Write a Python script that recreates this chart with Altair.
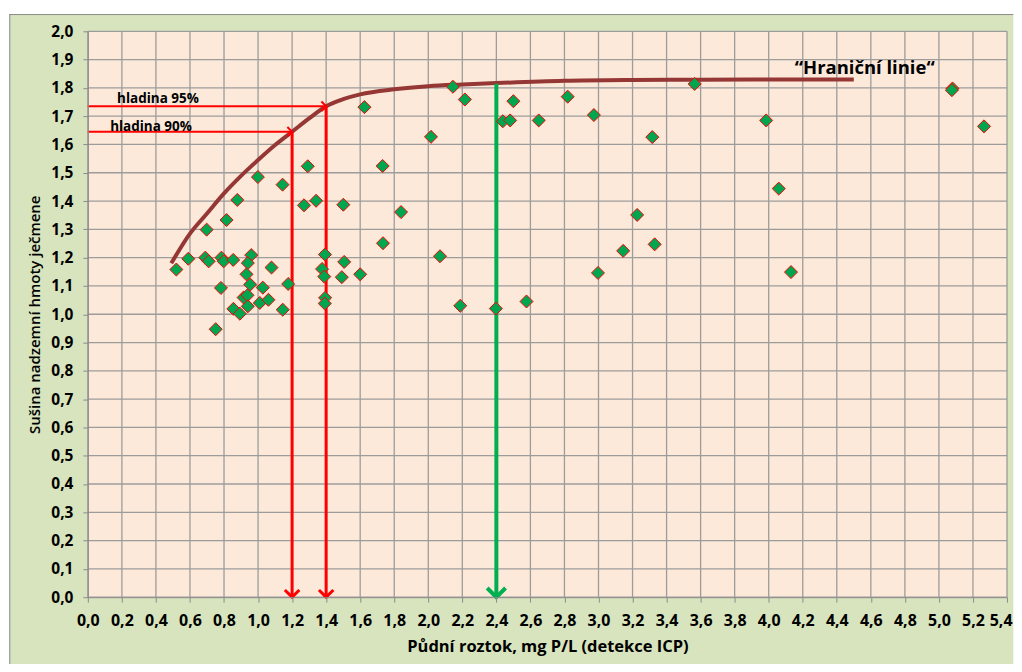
import altair as alt
import pandas as pd

# ---- data ----
pt_x = [0.52, 0.59, 0.69, 0.71, 0.785, 0.798, 0.854, 0.96, 0.94, 0.932, 0.954, 1.079, 1.028, 0.782,
        1.177, 0.915, 0.938, 0.940, 0.855, 0.893, 1.010, 1.061, 1.145, 0.751, 0.698, 0.815, 0.878,
        0.999, 1.144, 1.292, 1.270, 1.341, 1.501, 1.393, 1.376, 1.389, 1.506, 1.492, 1.600, 1.394,
        1.392, 1.625, 1.732, 1.840, 1.734, 2.016, 2.069, 2.145, 2.215, 2.188, 2.397, 2.438, 2.481,
        2.500, 2.577, 2.649, 2.819, 2.973, 2.997, 3.145, 3.227, 3.316, 3.330, 3.565, 3.985, 4.059,
        4.131, 5.080, 5.076, 5.265]
pt_y = [1.158, 1.196, 1.200, 1.187, 1.200, 1.187, 1.192, 1.209, 1.181, 1.141, 1.105, 1.165, 1.094, 1.093,
        1.107, 1.059, 1.067, 1.028, 1.019, 1.002, 1.040, 1.051, 1.016, 0.947, 1.299, 1.333, 1.404,
        1.485, 1.458, 1.523, 1.385, 1.401, 1.387, 1.211, 1.160, 1.133, 1.185, 1.131, 1.141, 1.058,
        1.038, 1.732, 1.524, 1.361, 1.251, 1.627, 1.205, 1.804, 1.759, 1.030, 1.020, 1.682, 1.685,
        1.753, 1.045, 1.685, 1.769, 1.704, 1.146, 1.224, 1.351, 1.626, 1.247, 1.814, 1.685, 1.444,
        1.149, 1.798, 1.792, 1.664]

curve_x = [0.49, 0.6, 0.7, 0.8, 0.9, 1.0, 1.1, 1.2, 1.3, 1.4, 1.5, 1.6, 1.8, 2.0, 2.2, 2.4, 2.8, 3.2, 3.6, 4.0, 4.5]
curve_y = [1.18, 1.285, 1.356, 1.427, 1.489, 1.545, 1.598, 1.645, 1.692, 1.735, 1.760, 1.777, 1.795, 1.806,
           1.812, 1.817, 1.825, 1.828, 1.829, 1.830, 1.830]

x_ticks = [0.0, 0.2, 0.4, 0.6, 0.8, 1.0, 1.2, 1.4, 1.6, 1.8, 2.0, 2.2, 2.4, 2.6, 2.8, 3.0, 3.2, 3.4,
           3.6, 3.8, 4.0, 4.2, 4.4, 4.6, 4.8, 5.0, 5.2, 5.4]
y_ticks = [0.0, 0.1, 0.2, 0.3, 0.4, 0.5, 0.6, 0.7, 0.8, 0.9, 1.0, 1.1, 1.2, 1.3, 1.4, 1.5, 1.6, 1.7,
           1.8, 1.9, 2.0]

# threshold levels (x at curve, y level)
lvl_names = ["hladina 95%", "hladina 90%"]
lvl_x = [1.4, 1.2]
lvl_y = [1.735, 1.645]
lvl_label_x = [0.172, 0.131]
lvl_label_y = [1.762, 1.662]
green_x = [2.4]
green_y = [1.815]

title_text = ["\u201cHrani\u010dn\u00ed linie\u201c"]
title_x = [4.564]
title_y = [1.871]

W, H = 921, 567
FONT = "Open Sans"
xs = alt.Scale(domain=[0, 5.4], nice=False, zero=False)
ys = alt.Scale(domain=[0, 2.0], nice=False, zero=False)

lab = "replace(format(datum.value, '.1f'), '.', ',')"
ax_x = alt.Axis(
    values=x_ticks, labelExpr=lab, title="P\u016fdn\u00ed roztok, mg P/L (detekce ICP)",
    grid=False, domainColor="#8c8c8c", tickColor="#8c8c8c", tickSize=5, labelPadding=10,
    labelOverlap=False, labelFlush=False, labelBound=False,
    labelAlign={"condition": {"test": "datum.value >= 5.35", "value": "right"}, "value": "center"},
    labelOffset={"condition": {"test": "datum.value >= 5.35", "value": 5}, "value": 0},
    labelFont=FONT, labelFontSize=16, labelFontWeight="bold", labelColor="#000000",
    titleFont=FONT, titleFontSize=16.5, titleFontWeight="bold", titleColor="#000000",
    titlePadding=10, zindex=1)
ax_y = alt.Axis(
    values=y_ticks, labelExpr=lab, title="Su\u0161ina nadzemn\u00ed hmoty je\u010dmene",
    grid=False, domainColor="#8c8c8c", tickColor="#8c8c8c", tickSize=5, labelPadding=10,
    labelOverlap=False, labelFlush=False, labelBound=False,
    labelFont=FONT, labelFontSize=15.5, labelFontWeight="bold", labelColor="#000000",
    titleFont=FONT, titleFontSize=15, titleFontWeight=600, titleColor="#000000",
    titlePadding=8, zindex=1)


def X(field):
    return alt.X(field, scale=xs, axis=ax_x)


def Y(field):
    return alt.Y(field, scale=ys, axis=ax_y)


one = pd.DataFrame({"a": [0]})

frame = alt.Chart(one).mark_rect(fill="#d7e4bd").encode(
    x=alt.value(-78.7), x2=alt.value(927.3), y=alt.value(-17.3), y2=alt.value(634))
frame_left = alt.Chart(one).mark_rule(color="#8c8c8c", strokeWidth=1).encode(
    x=alt.value(-78.2), y=alt.value(-17.3), y2=alt.value(634))
frame_top = alt.Chart(one).mark_rule(color="#8c8c8c", strokeWidth=1).encode(
    y=alt.value(-16.8), x=alt.value(-78.7), x2=alt.value(927.3))

bg = alt.Chart(pd.DataFrame({"x0": [0.0], "x1": [5.4], "y0": [0.0], "y1": [2.0]})).mark_rect(
    fill="#fde9d9").encode(x=X("x0:Q"), x2="x1:Q", y=Y("y0:Q"), y2="y1:Q")

vgrid = alt.Chart(pd.DataFrame({"gx": x_ticks})).mark_rule(color="#9c9c9c", strokeWidth=1.3).encode(
    x=X("gx:Q"), y=alt.value(0), y2=alt.value(H))
hgrid = alt.Chart(pd.DataFrame({"gy": y_ticks})).mark_rule(color="#9c9c9c", strokeWidth=1.3).encode(
    y=Y("gy:Q"), x=alt.value(0), x2=alt.value(W))

curve = alt.Chart(pd.DataFrame({"cx": curve_x, "cy": curve_y})).mark_line(
    color="#953735", strokeWidth=4, interpolate="monotone").encode(x=X("cx:Q"), y=Y("cy:Q"))

lv = pd.DataFrame({"name": lvl_names, "lx": lvl_x, "ly": lvl_y, "zx": [0.0, 0.0], "zy": [0.0, 0.0],
                   "tx": lvl_label_x, "ty": lvl_label_y})
h_lines = alt.Chart(lv).mark_rule(color="#ff0000", strokeWidth=2).encode(
    x=X("zx:Q"), x2="lx:Q", y=Y("ly:Q"))
v_lines = alt.Chart(lv).mark_rule(color="#ff0000", strokeWidth=3).encode(
    x=X("lx:Q"), y=Y("ly:Q"), y2="zy:Q")
h_heads = alt.Chart(lv).mark_point(shape="M-1,-1L0,0L-1,1", size=90, filled=False, color="#ff0000",
                                   strokeWidth=2, opacity=1).encode(x=X("lx:Q"), y=Y("ly:Q"))
v_heads = alt.Chart(lv).mark_point(shape="M-1,-1L0,0L1,-1", size=210, filled=False, color="#ff0000",
                                   strokeWidth=3, opacity=1).encode(x=X("lx:Q"), y=Y("zy:Q"))
lv_text = alt.Chart(lv).mark_text(align="left", baseline="middle", font=FONT, fontSize=13.5,
                                  fontWeight="bold", color="#000000").encode(
    x=X("tx:Q"), y=Y("ty:Q"), text="name:N")

gr = pd.DataFrame({"gx": green_x, "gy": green_y, "z": [0.0]})
g_line = alt.Chart(gr).mark_rule(color="#00b050", strokeWidth=4).encode(
    x=X("gx:Q"), y=Y("gy:Q"), y2="z:Q")
g_head = alt.Chart(gr).mark_point(shape="M-1,-1L0,0L1,-1", size=340, filled=False, color="#00b050",
                                  strokeWidth=4, opacity=1).encode(x=X("gx:Q"), y=Y("z:Q"))

pts = alt.Chart(pd.DataFrame({"px": pt_x, "py": pt_y})).mark_point(
    shape="diamond", size=170, filled=True, fill="#00a550", stroke="#ff0000", strokeWidth=1,
    opacity=1).encode(x=X("px:Q"), y=Y("py:Q"))

title = alt.Chart(pd.DataFrame({"t": title_text, "x": title_x, "y": title_y})).mark_text(
    font=FONT, fontSize=18.5, fontWeight="bold", color="#000000", align="center", baseline="middle").encode(
    x=X("x:Q"), y=Y("y:Q"), text="t:N")

chart = alt.layer(frame, frame_left, frame_top, bg, vgrid, hgrid, curve, h_lines, v_lines, g_line,
                  pts, h_heads, v_heads, g_head, lv_text, title).properties(
    width=W, height=H, padding={"left": 0, "top": 4.7, "right": 0, "bottom": 0}
).configure_view(stroke=None).configure(background="white").configure_axis(
    labelOverlap=False, labelFlush=False)

chart.save("out.html", embed_options={"renderer": "svg", "actions": False})
